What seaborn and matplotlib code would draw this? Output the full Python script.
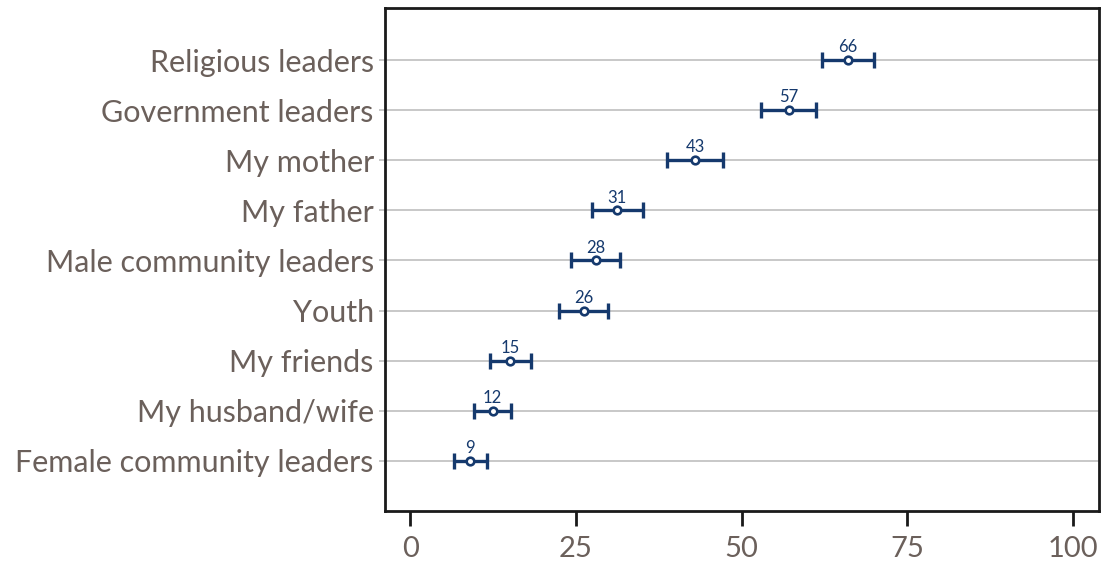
import numpy as np
import pandas as pd
import seaborn as sns
import matplotlib
matplotlib.use("Agg")
import matplotlib.pyplot as plt

# data (top row first)
categories = [
    "Religious leaders",
    "Government leaders",
    "My mother",
    "My father",
    "Male community leaders",
    "Youth",
    "My friends",
    "My husband/wife",
    "Female community leaders",
]
values = [66.1, 57.2, 43.0, 31.2, 28.0, 26.2, 15.1, 12.4, 9.0]
ci_low = [62.1, 52.9, 38.8, 27.4, 24.2, 22.5, 12.0, 9.6, 6.6]
ci_high = [70.0, 61.3, 47.2, 35.1, 31.6, 29.9, 18.2, 15.2, 11.6]
x_ticks = [0, 25, 50, 75, 100]

NAVY = "#15396d"
LABEL_GREY = "#6b605b"

df = pd.DataFrame({"Source": categories, "Value": values,
                   "Low": ci_low, "High": ci_high})

sns.set_theme(style="white")
plt.rcParams["font.family"] = ["Lato", "DejaVu Sans"]

fig = plt.figure(figsize=(11.03, 5.67), dpi=100)
ax = fig.add_axes([0.349, 0.0988, 0.6475, 0.8871])

# horizontal grid lines
for i in range(len(categories)):
    ax.axhline(i, color="#c8c8c8", lw=1.4, zorder=0)

# confidence intervals
ax.errorbar(
    x=df["Value"], y=np.arange(len(df)),
    xerr=[df["Value"] - df["Low"], df["High"] - df["Value"]],
    fmt="none", ecolor=NAVY, elinewidth=2.4, capsize=6.0, capthick=2.4,
    zorder=2,
)

# point estimates
df["pos"] = np.arange(len(df))
sns.scatterplot(data=df, x="Value", y="pos", ax=ax, marker="o", s=30,
                facecolor="white", edgecolor=NAVY, linewidth=1.9,
                zorder=3, legend=False)

# value labels above the points
for i in range(len(df)):
    ax.annotate(f"{round(df.Value[i]):d}", (df.Value[i], i),
                xytext=(0, 3.5), textcoords="offset points",
                ha="center", va="bottom", fontsize=12, color=NAVY)

ax.set_yticks(np.arange(len(categories)))
ax.set_yticklabels(categories)
ax.set_ylim(len(categories), -1.04)
ax.set_xlim(-3.85, 104.0)
ax.set_xticks(x_ticks)
ax.set_xlabel("")
ax.set_ylabel("")

for side in ["left", "right", "top", "bottom"]:
    ax.spines[side].set_visible(True)
    ax.spines[side].set_color("#1a1a1a")
    ax.spines[side].set_linewidth(2.0)

ax.tick_params(axis="y", left=True, length=4, width=1.4, color="#c8c8c8",
               pad=4, labelsize=22, labelcolor=LABEL_GREY)
ax.tick_params(axis="x", bottom=True, length=11, width=2.0, color="#1a1a1a",
               pad=7, labelsize=21, labelcolor=LABEL_GREY)

fig.savefig("out.png", dpi=100)
